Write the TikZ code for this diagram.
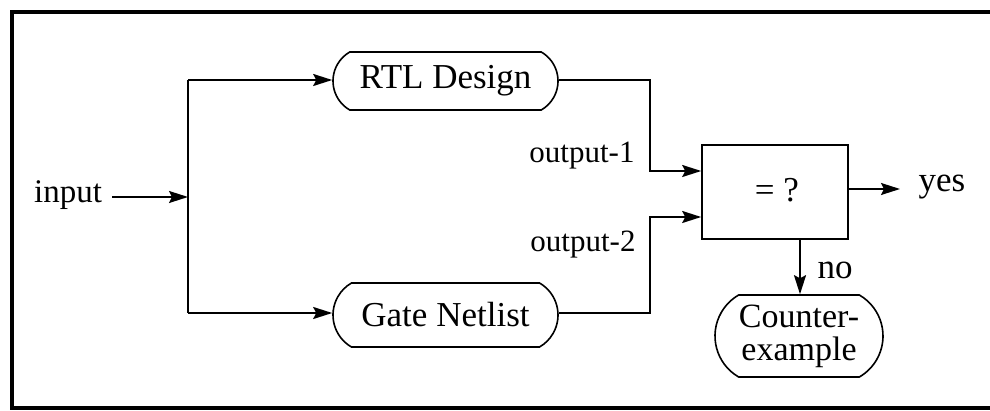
\documentclass[tikz,border=0pt]{standalone}
\usepackage{fontspec}
\setmainfont{Liberation Serif}
\usetikzlibrary{arrows.meta,shapes.misc}
\begin{document}
\begin{tikzpicture}[x=1pt,y=-1pt,
  conn/.style={line width=1.8pt},
  arr/.style={conn,-{Stealth[length=19pt,width=12pt,inset=3pt]}},
  pill/.style={draw,line width=1.6pt,rounded rectangle,rounded rectangle arc length=120,inner sep=0pt},
  boxtxt/.style={font=\rmfamily\fontsize{35}{31}\selectfont},
  lbl/.style={font=\rmfamily\fontsize{31}{33}\selectfont,inner sep=0pt}
]
\useasboundingbox (0,0) rectangle (990,411);
% frame
\draw[line width=4pt] (1000,12) -- (12,12) -- (12,408) -- (1000,408);
% nodes
\node[lbl,font=\rmfamily\fontsize{33}{35}\selectfont] (in) at (68,195) {input};
\coordinate (j) at (188,197);
\coordinate (jt) at (188,80);
\coordinate (jb) at (188,313);
\node[pill,boxtxt,minimum width=225pt,minimum height=58pt] (rtl) at (445.5,81) {RTL Design};
\node[pill,boxtxt,minimum width=225pt,minimum height=64pt] (gate) at (445.5,315) {Gate Netlist};
\node[draw,line width=1.6pt,minimum width=146pt,minimum height=94pt,inner sep=0pt] (cmp) at (775,192) {};
\node[boxtxt,inner sep=0pt] (eq) at (777,190) {= ?};
\node[pill,align=center,font=\rmfamily\fontsize{34}{33}\selectfont,minimum width=168pt,minimum height=82pt] (ce) at (799,336) {Counter-\\example};
\node[lbl] (o1) at (582,156) {output-1};
\node[lbl] (o2) at (583,245) {output-2};
\node[lbl,font=\rmfamily\fontsize{35}{37}\selectfont] (yes) at (942,187) {yes};
\node[lbl,font=\rmfamily\fontsize{35}{37}\selectfont] (no) at (835,270) {no};
\coordinate (r1) at (650,80);
\coordinate (r2) at (650,313);
\coordinate (a1) at (650,171);
\coordinate (a2) at (650,217);
\coordinate (t1) at (cmp.west |- a1);
\coordinate (t2) at (cmp.west |- a2);
\coordinate (yt) at (900,189);
\coordinate (ds) at (800,239);
\coordinate (dt) at (800,295);
% connectors
\draw[arr] ([xshift=10pt]in.east |- j) -- (j);
\draw[conn] (jt) -- (jb);
\draw[arr] (jt) -- (rtl.west |- jt);
\draw[arr] (jb) -- (gate.west |- jb);
\draw[arr] (rtl.east |- r1) -- (r1) -- (a1) -- (t1);
\draw[arr] (gate.east |- r2) -- (r2) -- (a2) -- (t2);
\draw[arr] (cmp.east |- yt) -- (yt);
\draw[arr] (cmp.south -| ds) -- (ce.north -| dt);
\end{tikzpicture}
\end{document}
